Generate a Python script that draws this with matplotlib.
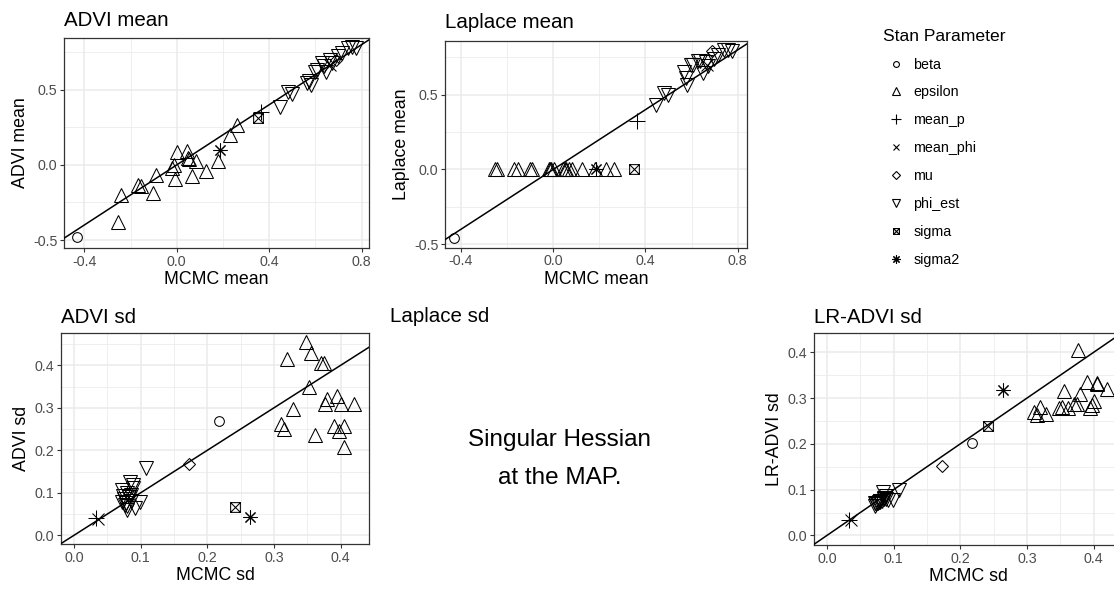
import matplotlib
matplotlib.use("Agg")
import matplotlib.pyplot as plt
import numpy as np
from matplotlib.path import Path
from matplotlib.lines import Line2D
from matplotlib.ticker import MultipleLocator

plt.rcParams['font.family'] = ['Liberation Sans', 'DejaVu Sans']

# ---------------- data ----------------
params = ["beta", "epsilon", "mean_p", "mean_phi", "mu", "phi_est", "sigma", "sigma2"]

# posterior means
mcmc_mean = {
    "beta": [-0.43],
    "epsilon": [-0.243, -0.253, -0.168, -0.153, -0.101, -0.090, -0.019, -0.012, -0.008, 0.002,
                0.043, 0.049, 0.067, 0.082, 0.125, 0.180, 0.230, 0.262, 0.055],
    "mean_p": [0.365],
    "mean_phi": [0.665],
    "mu": [0.69],
    "phi_est": [0.446, 0.482, 0.497, 0.565, 0.574, 0.579, 0.598, 0.607, 0.627, 0.636,
                0.648, 0.663, 0.672, 0.699, 0.713, 0.742, 0.757, 0.775],
    "sigma": [0.35],
    "sigma2": [0.185],
}
advi_mean = {
    "beta": [-0.48],
    "epsilon": [-0.200, -0.377, -0.133, -0.140, -0.188, -0.067, -0.022, 0.000, -0.093, 0.084,
                0.095, 0.044, -0.073, 0.029, -0.040, 0.027, 0.200, 0.266, 0.040],
    "mean_p": [0.355],
    "mean_phi": [0.665],
    "mu": [0.70],
    "phi_est": [0.388, 0.488, 0.472, 0.543, 0.560, 0.532, 0.621, 0.630, 0.677, 0.660,
                0.621, 0.699, 0.680, 0.721, 0.743, 0.776, 0.787, 0.775],
    "sigma": [0.311],
    "sigma2": [0.100],
}
laplace_mean = {
    "beta": [-0.46],
    "epsilon": [0.0] * 19,
    "mean_p": [0.321],
    "mean_phi": [0.70],
    "mu": [0.789],
    "phi_est": [0.432, 0.510, 0.499, 0.655, 0.611, 0.566, 0.700, 0.700, 0.722, 0.722,
                0.644, 0.720, 0.689, 0.740, 0.767, 0.800, 0.800, 0.790],
    "sigma": [0.0],
    "sigma2": [0.0],
}

# posterior standard deviations
mcmc_sd = {
    "beta": [0.218],
    "epsilon": [0.310, 0.315, 0.320, 0.328, 0.348, 0.352, 0.355, 0.362, 0.370, 0.375,
                0.376, 0.380, 0.390, 0.395, 0.398, 0.400, 0.405, 0.405, 0.420],
    "mean_p": [0.033],
    "mean_phi": [0.036],
    "mu": [0.172],
    "phi_est": [0.108, 0.084, 0.089, 0.0715, 0.079, 0.085, 0.0715, 0.076, 0.079, 0.0915,
                0.099, 0.082, 0.075, 0.088, 0.080, 0.073, 0.086, 0.078],
    "sigma": [0.242],
    "sigma2": [0.264],
}
advi_sd = {
    "beta": [0.268],
    "epsilon": [0.262, 0.250, 0.415, 0.297, 0.455, 0.348, 0.430, 0.235, 0.405, 0.405,
                0.310, 0.320, 0.258, 0.328, 0.245, 0.310, 0.258, 0.207, 0.310],
    "mean_p": [0.040],
    "mean_phi": [0.038],
    "mu": [0.168],
    "phi_est": [0.158, 0.126, 0.118, 0.107, 0.100, 0.095, 0.079, 0.072, 0.0595, 0.0635,
                0.079, 0.090, 0.085, 0.112, 0.068, 0.092, 0.080, 0.075],
    "sigma": [0.066],
    "sigma2": [0.044],
}
lr_advi_sd = {
    "beta": [0.202],
    "epsilon": [0.270, 0.263, 0.280, 0.265, 0.279, 0.281, 0.315, 0.278, 0.287, 0.288,
                0.405, 0.309, 0.336, 0.278, 0.285, 0.294, 0.332, 0.330, 0.319],
    "mean_p": [0.033],
    "mean_phi": [0.034],
    "mu": [0.152],
    "phi_est": [0.100, 0.095, 0.080, 0.070, 0.075, 0.080, 0.065, 0.070, 0.072, 0.078,
                0.077, 0.076, 0.070, 0.085, 0.075, 0.068, 0.082, 0.073],
    "sigma": [0.238],
    "sigma2": [0.318],
}

# ---------------- styling ----------------
sq_cross = Path([(-1, -1), (1, -1), (1, 1), (-1, 1), (-1, -1), (1, 1), (-1, 1), (1, -1)],
                [Path.MOVETO, Path.LINETO, Path.LINETO, Path.LINETO, Path.CLOSEPOLY,
                 Path.LINETO, Path.MOVETO, Path.LINETO])
shape_map = {
    "beta": ("o", 7),
    "epsilon": ("^", 9.5),
    "mean_p": ("+", 11),
    "mean_phi": ("x", 8),
    "mu": ("D", 6.5),
    "phi_est": ("v", 9.5),
    "sigma": (sq_cross, 7),
    "sigma2": ((8, 2, 0), 10),
}
legend_scale = 0.6

W, H = 1114, 589
fig = plt.figure(figsize=(W / 100, H / 100), dpi=100)

GRID = "#EBEBEB"
TXT = "#4D4D4D"
TICK_FS = 10.3
AXLAB_FS = 12.8
TITLE_FS = 14.8


def add_px_axes(l, t, r, b):
    return fig.add_axes([l / W, 1 - b / H, (r - l) / W, (b - t) / H])


def style_axes(ax, major, minor):
    ax.set_facecolor("white")
    for s in ax.spines.values():
        s.set_color("#333333")
        s.set_linewidth(0.9)
    ax.xaxis.set_major_locator(MultipleLocator(major[0]))
    ax.yaxis.set_major_locator(MultipleLocator(major[1]))
    ax.xaxis.set_minor_locator(MultipleLocator(minor[0]))
    ax.yaxis.set_minor_locator(MultipleLocator(minor[1]))
    ax.grid(which="major", color=GRID, lw=1.1, zorder=0)
    ax.grid(which="minor", color=GRID, lw=0.55, zorder=0)
    ax.set_axisbelow(True)
    ax.tick_params(which="major", length=2.8, width=0.8, color="#333333",
                   labelsize=TICK_FS, labelcolor=TXT, pad=2)
    ax.tick_params(which="minor", length=0)
    ax.xaxis.set_major_formatter(lambda v, p: f"{v:.1f}")
    ax.yaxis.set_major_formatter(lambda v, p: f"{v:.1f}")


def scatter_panel(ax, xd, yd):
    for p in params:
        m, ms = shape_map[p]
        ax.plot(xd[p], yd[p], linestyle="none", marker=m, markersize=ms,
                markerfacecolor="none", markeredgecolor="black", markeredgewidth=0.75,
                zorder=2)
    ax.axline((0, 0), slope=1, color="black", lw=1.1, zorder=3)


def finish(ax, title, xlabel, ylabel, pad=8):
    ax.set_title(title, loc="left", fontsize=TITLE_FS, pad=pad)
    ax.set_xlabel(xlabel, fontsize=AXLAB_FS, labelpad=2)
    ax.set_ylabel(ylabel, fontsize=AXLAB_FS, labelpad=3)


# Panel 1: ADVI mean
ax1 = add_px_axes(64, 38, 369, 248)
style_axes(ax1, (0.4, 0.5), (0.2, 0.25))
scatter_panel(ax1, mcmc_mean, advi_mean)
ax1.set_xlim(-0.488, 0.832)
ax1.set_ylim(-0.553, 0.844)
finish(ax1, "ADVI mean", "MCMC mean", "ADVI mean", pad=9)

# Panel 2: Laplace mean
ax2 = add_px_axes(445, 40.7, 747, 247.7)
style_axes(ax2, (0.4, 0.5), (0.2, 0.25))
scatter_panel(ax2, mcmc_mean, laplace_mean)
ax2.set_xlim(-0.469, 0.840)
ax2.set_ylim(-0.523, 0.861)
finish(ax2, "Laplace mean", "MCMC mean", "Laplace mean", pad=9)

# Panel 3: ADVI sd
ax3 = add_px_axes(61, 333, 369, 544)
style_axes(ax3, (0.1, 0.1), (0.05, 0.05))
scatter_panel(ax3, mcmc_sd, advi_sd)
ax3.set_xlim(-0.0195, 0.4425)
ax3.set_ylim(-0.0205, 0.476)
finish(ax3, "ADVI sd", "MCMC sd", "ADVI sd", pad=7.5)

# Panel 5: LR-ADVI sd (extends past the right edge)
ax5 = add_px_axes(814, 333.3, 1122, 545)
style_axes(ax5, (0.1, 0.1), (0.05, 0.05))
scatter_panel(ax5, mcmc_sd, lr_advi_sd)
ax5.set_xlim(-0.0195, 0.4425)
ax5.set_ylim(-0.021, 0.4415)
finish(ax5, "LR-ADVI sd", "MCMC sd", "LR-ADVI sd", pad=7.5)

# Panel 4: Laplace sd placeholder
fig.text(390 / W, 1 - 317 / H, "Laplace sd", fontsize=TITLE_FS, ha="left", va="center")
fig.text(560 / W, 1 - 459 / H, "Singular Hessian\nat the MAP.", fontsize=17.5,
         ha="center", va="center", linespacing=1.9)

# Legend
handles = []
for p in params:
    m, ms = shape_map[p]
    handles.append(Line2D([], [], linestyle="none", marker=m, markersize=ms * legend_scale,
                          markerfacecolor="none", markeredgecolor="black",
                          markeredgewidth=0.8, label=p))
leg = fig.legend(handles=handles, title="Stan Parameter", loc="upper left",
                 bbox_to_anchor=(877 / W, 1 - 23 / H), frameon=False, fontsize=10.3,
                 title_fontsize=12.6, labelspacing=0.97, handlelength=1.8,
                 handletextpad=0.35, alignment="left", borderaxespad=0)

fig.savefig("out.png", dpi=100)
